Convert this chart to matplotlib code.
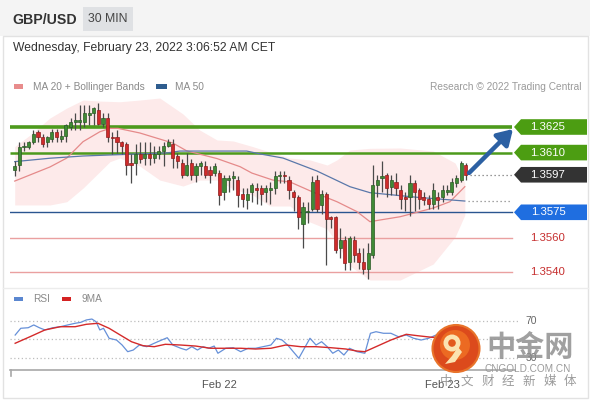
import matplotlib
matplotlib.use('Agg')
import matplotlib.pyplot as plt
from matplotlib.patches import Polygon, Rectangle, Circle
import numpy as np

plt.rcParams['font.family'] = ['Liberation Sans', 'Noto Sans CJK SC', 'DejaVu Sans']

# ---------------- data ----------------
title = "GBP/USD"
timeframe = "30 MIN"
date_text = "Wednesday, February 23, 2022 3:06:52 AM CET"
credit = "Research \u00a9 2022 Trading Central"

opens = [1.3600, 1.3603, 1.3613, 1.3613, 1.3616, 1.3622, 1.3619, 1.3616, 1.3618, 1.3622,
         1.3618, 1.3620, 1.3625, 1.3628, 1.3628, 1.3628, 1.3632, 1.3633, 1.3635, 1.3627,
         1.3630, 1.3619, 1.3619, 1.3616, 1.3615, 1.3604, 1.3604, 1.3609, 1.3607, 1.3609,
         1.3607, 1.3609, 1.3611, 1.3614, 1.3615, 1.3608, 1.3604, 1.3597, 1.3604, 1.3597,
         1.3602, 1.3602, 1.3600, 1.3598, 1.3598, 1.3587, 1.3594, 1.3595, 1.3594, 1.3586,
         1.3582, 1.3587, 1.3589, 1.3589, 1.3587, 1.3588, 1.3589, 1.3596, 1.3597, 1.3594,
         1.3587, 1.3584, 1.3568, 1.3575, 1.3577, 1.3594, 1.3579, 1.3586, 1.3572, 1.3572,
         1.3554, 1.3559, 1.3546, 1.3559, 1.3551, 1.3546, 1.3542, 1.3550, 1.3591, 1.3595,
         1.3597, 1.3590, 1.3593, 1.3588, 1.3584, 1.3584, 1.3592, 1.3588, 1.3584, 1.3583,
         1.3580, 1.3584, 1.3584, 1.3587, 1.3587, 1.3592, 1.3594, 1.3603]
highs = [1.3605, 1.3616, 1.3616, 1.3617, 1.3623, 1.3623, 1.3621, 1.3620, 1.3624, 1.3624,
         1.3623, 1.3627, 1.3630, 1.3633, 1.3638, 1.3638, 1.3638, 1.3637, 1.3639, 1.3633,
         1.3633, 1.3622, 1.3623, 1.3617, 1.3616, 1.3609, 1.3615, 1.3616, 1.3616, 1.3616,
         1.3614, 1.3614, 1.3616, 1.3618, 1.3618, 1.3610, 1.3606, 1.3610, 1.3606, 1.3604,
         1.3605, 1.3605, 1.3602, 1.3604, 1.3600, 1.3597, 1.3597, 1.3599, 1.3596, 1.3589,
         1.3589, 1.3592, 1.3592, 1.3591, 1.3591, 1.3593, 1.3599, 1.3599, 1.3599, 1.3596,
         1.3588, 1.3585, 1.3581, 1.3581, 1.3596, 1.3597, 1.3588, 1.3587, 1.3573, 1.3573,
         1.3566, 1.3561, 1.3561, 1.3561, 1.3554, 1.3554, 1.3557, 1.3603, 1.3597, 1.3605,
         1.3598, 1.3597, 1.3598, 1.3591, 1.3587, 1.3597, 1.3594, 1.3589, 1.3587, 1.3585,
         1.3592, 1.3587, 1.3591, 1.3591, 1.3595, 1.3597, 1.3605, 1.3604]
lows = [1.3596, 1.3599, 1.3611, 1.3612, 1.3615, 1.3616, 1.3613, 1.3613, 1.3616, 1.3616,
        1.3616, 1.3616, 1.3623, 1.3623, 1.3623, 1.3625, 1.3626, 1.3626, 1.3626, 1.3625,
        1.3616, 1.3609, 1.3610, 1.3609, 1.3597, 1.3592, 1.3597, 1.3604, 1.3603, 1.3603,
        1.3604, 1.3606, 1.3602, 1.3613, 1.3601, 1.3601, 1.3595, 1.3596, 1.3594, 1.3593,
        1.3597, 1.3595, 1.3592, 1.3596, 1.3579, 1.3582, 1.3587, 1.3588, 1.3578, 1.3578,
        1.3577, 1.3581, 1.3580, 1.3579, 1.3581, 1.3580, 1.3586, 1.3592, 1.3592, 1.3583,
        1.3576, 1.3565, 1.3554, 1.3569, 1.3576, 1.3575, 1.3574, 1.3544, 1.3566, 1.3551,
        1.3548, 1.3541, 1.3541, 1.3546, 1.3542, 1.3539, 1.3536, 1.3548, 1.3584, 1.3587,
        1.3584, 1.3585, 1.3585, 1.3577, 1.3576, 1.3573, 1.3576, 1.3577, 1.3579, 1.3577,
        1.3577, 1.3577, 1.3581, 1.3585, 1.3585, 1.3590, 1.3593, 1.3594]
closes = [1.3602, 1.3613, 1.3614, 1.3616, 1.3621, 1.3619, 1.3615, 1.3619, 1.3622, 1.3619,
          1.3620, 1.3626, 1.3628, 1.3629, 1.3629, 1.3633, 1.3633, 1.3636, 1.3627, 1.3630,
          1.3619, 1.36185, 1.3616, 1.3614, 1.3603, 1.3603, 1.3609, 1.3606, 1.3609, 1.3607,
          1.3609, 1.3611, 1.3614, 1.3616, 1.3607, 1.3605, 1.3597, 1.3603, 1.3597, 1.3602,
          1.3604, 1.3597, 1.3597, 1.3602, 1.3585, 1.3595, 1.3595, 1.3596, 1.3585, 1.3583,
          1.3586, 1.3591, 1.3588, 1.3586, 1.3589, 1.3589, 1.3596, 1.3597, 1.3596, 1.3588,
          1.3584, 1.3572, 1.3578, 1.3576, 1.3593, 1.3577, 1.3586, 1.3571, 1.3571, 1.3553,
          1.3559, 1.3545, 1.3560, 1.3550, 1.3546, 1.3542, 1.3551, 1.3591, 1.3594, 1.3596,
          1.3589, 1.3594, 1.3589, 1.3583, 1.3583, 1.3592, 1.3587, 1.3583, 1.3582, 1.3580,
          1.3588, 1.3582, 1.3588, 1.3588, 1.3593, 1.3595, 1.3604, 1.3597]

# MA 20 (read at sample bars)
ma20_idx = [0, 7.6, 11.2, 14.7, 18.3, 20.5, 22.2, 26.9, 34.0, 37.0, 43.5, 48.5, 51.0,
            55.5, 59.2, 64.1, 69.3, 73.6, 76.4, 78.6, 82.9, 90.0, 93.6, 96.8]
ma20_val = [1.35933, 1.36016, 1.36068, 1.36164, 1.36222, 1.36242, 1.36242, 1.36215,
            1.36156, 1.36110, 1.36065, 1.36017, 1.35980, 1.35939, 1.35928, 1.35869,
            1.35812, 1.35754, 1.35695, 1.35705, 1.35724, 1.35775, 1.35812, 1.35900]
# MA 50
ma50_idx = [0, 7.6, 14.7, 20.5, 32.8, 35.5, 49.9, 52.8, 57.7, 65.0, 72.1, 76.4, 86.5, 96.8]
ma50_val = [1.36047, 1.36067, 1.36080, 1.36086, 1.36098, 1.36109, 1.36109, 1.36092,
            1.36068, 1.35992, 1.35900, 1.35865, 1.35838, 1.35816]
# Bollinger bands
bb_idx = [0, 3.3, 7.6, 11.2, 14.7, 18.3, 20.5, 22.6, 26.9, 31.2, 36.2, 39.8, 43.5, 47.0,
          51.2, 54.9, 59.2, 63.5, 67.2, 69.3, 72.1, 76.4, 82.9, 90.0, 94.7, 96.8]
bb_upper = [1.36135, 1.36203, 1.36303, 1.36361, 1.36408, 1.36402, 1.36400, 1.36398,
            1.36408, 1.36420, 1.36326, 1.36232, 1.36174, 1.36168, 1.36135, 1.36103,
            1.36068, 1.36057, 1.36027, 1.36057, 1.36115, 1.36125, 1.36127, 1.36109,
            1.36039, 1.35922]
bb_lower = [1.35793, 1.35793, 1.35793, 1.35812, 1.35892, 1.35988, 1.36047, 1.36068,
            1.36021, 1.35939, 1.35904, 1.35939, 1.35939, 1.35887, 1.35851, 1.35787,
            1.35787, 1.35693, 1.35652, 1.35570, 1.35435, 1.35353, 1.35353, 1.35447,
            1.35605, 1.35734]

last_price = 1.3597
resistances = [1.3625, 1.3610]
pivot = 1.3575
supports = [1.3560, 1.3540]

# RSI panel
rsi_idx = [0.1, 1.3, 2.9, 4.1, 5.3, 6.5, 8.2, 9.8, 11.4, 13.0, 14.2, 15.4, 16.6, 17.5,
           18.3, 19.1, 20.3, 21.9, 23.1, 24.3, 25.5, 26.8, 28.4, 30.0, 31.6, 32.8, 34.0,
           35.7, 36.9, 38.1, 39.3, 40.5, 41.7, 42.9, 43.7, 45.4, 47.0, 48.6, 50.2, 51.8,
           53.4, 55.1, 56.3, 57.5, 58.7, 59.9, 61.1, 62.3, 63.5, 64.8, 66.0, 67.2, 68.4,
           69.6, 70.8, 72.0, 73.6, 75.3, 76.5, 77.7, 79.3, 80.9, 82.5, 84.2, 85.8, 87.4,
           89.0, 90.6, 92.2, 94.7, 97.0]
rsi_val = [54.5, 61.8, 62.4, 65.4, 62.4, 60.0, 62.4, 63.5, 65.4, 67.2, 68.2, 70.8, 71.8,
           68.9, 60.0, 61.8, 51.0, 49.1, 43.7, 36.5, 38.3, 43.7, 41.9, 45.6, 49.1, 51.6,
           43.7, 40.2, 38.3, 41.9, 38.3, 41.9, 40.2, 42.6, 34.8, 40.2, 40.8, 36.5, 40.2,
           40.2, 41.9, 43.7, 51.0, 49.1, 43.7, 36.5, 29.4, 40.2, 51.0, 43.7, 47.3, 41.9,
           34.8, 38.3, 32.9, 40.2, 36.5, 34.8, 56.4, 58.1, 56.4, 56.4, 52.7, 54.5, 51.0,
           49.1, 51.0, 54.5, 56.4, 58.1, 62.0]
ma9_idx = [0.1, 3.3, 6.5, 9.8, 13.0, 15.4, 17.9, 20.3, 22.7, 25.1, 27.6, 30.0, 32.4, 35.7,
           38.9, 42.1, 45.4, 48.6, 51.8, 55.1, 58.3, 61.5, 64.8, 68.0, 71.2, 73.6, 75.3,
           77.7, 80.9, 84.2, 86.6, 89.8, 92.2, 94.7, 97.0]
ma9_val = [45.6, 52.7, 60.0, 63.5, 63.5, 66.1, 67.2, 61.8, 54.5, 47.3, 43.0, 41.9, 44.5,
           43.7, 42.6, 40.2, 40.2, 40.2, 39.4, 40.2, 43.7, 41.9, 41.9, 40.8, 39.4, 37.2,
           36.5, 41.9, 49.1, 55.3, 53.8, 52.0, 52.7, 52.7, 54.0]
rsi_levels = [70, 50, 30]
tick_idx = [44, 92]
tick_labels = ["Feb 22", "Feb 23"]

# ---------------- layout helpers ----------------
W, H = 590, 400
BAR0, STEP = 14.7, 4.65          # pixel x of first bar, pixels per bar
P_REF, Y_REF, PPX = 1.3625, 127.0, 5.862e-5   # price/pixel mapping


def px2idx(x):
    return (x - BAR0) / STEP


def py2price(y):
    return P_REF + (Y_REF - y) * PPX


fig = plt.figure(figsize=(W / 100, H / 100), dpi=100)
fig.patch.set_facecolor('white')

# background / frame
bg = fig.add_axes([0, 0, 1, 1], zorder=0)
bg.set_xlim(0, W); bg.set_ylim(H, 0); bg.axis('off')
bg.add_patch(Rectangle((0, 0), W, 36, facecolor='#f4f4f4', edgecolor='none'))
bg.add_patch(Rectangle((2.5, 36), W - 5, H - 38.5, facecolor='white', edgecolor='#e2e2e2', lw=1))
bg.plot([2.5, W - 2.5], [288, 288], color='#ececec', lw=1)
bg.add_patch(Rectangle((83, 7), 50, 24, facecolor='#dfe1e4', edgecolor='none'))
bg.text(12, 19.5, title, fontsize=10.2, fontweight='bold', color='#333333', va='center')
bg.text(108, 19.5, timeframe, fontsize=8.8, color='#444444', va='center', ha='center')
bg.text(13, 48, date_text, fontsize=8.7, color='#333333', va='center')
bg.add_patch(Rectangle((14, 84), 9, 4.5, facecolor='#e88c8c', edgecolor='none'))
bg.text(33, 86.5, "MA 20 + Bollinger Bands", fontsize=7.3, color='#8a8a8a', va='center')
bg.add_patch(Rectangle((156, 84), 11, 4.5, facecolor='#2f5d8f', edgecolor='none'))
bg.text(175, 86.5, "MA 50", fontsize=7.3, color='#8a8a8a', va='center')
bg.text(581, 86.5, credit, fontsize=7.3, color='#9a9a9a', va='center', ha='right')
bg.add_patch(Rectangle((14, 296.5), 9, 4.5, facecolor='#5b87d0', edgecolor='none'))
bg.text(33, 298.5, "RSI", fontsize=7.3, color='#8a8a8a', va='center')
bg.add_patch(Rectangle((62, 296.5), 9, 4.5, facecolor='#d42222', edgecolor='none'))
bg.text(82, 298.5, "9MA", fontsize=7.3, color='#8a8a8a', va='center')

# ---------------- price axes ----------------
ax = fig.add_axes([10 / W, (H - 285) / H, (W - 10) / W, 190 / H], zorder=1)
ax.set_facecolor('none')
ax.set_xlim(px2idx(10), px2idx(W))
ax.set_ylim(py2price(285), py2price(95))
ax.axis('off')
x_line_end = px2idx(512)
x0 = px2idx(10)

ax.fill_between(bb_idx, bb_lower, bb_upper, color='#fdeaea', lw=0, zorder=1)

for lvl, lw in zip(resistances, [2.6, 1.8]):
    ax.plot([x0, x_line_end], [lvl, lvl], color='#4d9a1c', lw=lw, zorder=2, solid_capstyle='butt')
ax.plot([x0, x_line_end], [pivot, pivot], color='#2a5590', lw=1.0, zorder=2)
for lvl in supports:
    ax.plot([x0, x_line_end], [lvl, lvl], color='#eaa0a0', lw=1.0, zorder=2)

ax.plot(ma20_idx, ma20_val, color='#e58a8a', lw=0.9, zorder=3)
ax.plot(ma50_idx, ma50_val, color='#5a78aa', lw=0.9, zorder=3)

idx = np.arange(len(opens))
o = np.array(opens); c = np.array(closes); hi = np.array(highs); lo = np.array(lows)
up = c >= o
ax.vlines(idx, lo, hi, color='#4a4a4a', lw=0.9, zorder=4)
bottoms = np.minimum(o, c)
heights = np.maximum(np.abs(c - o), 1.2 * PPX)
ax.bar(idx[up], heights[up], bottom=bottoms[up], width=0.68, color='#3f8a35',
       edgecolor='#2b5a25', lw=0.5, zorder=5)
ax.bar(idx[~up], heights[~up], bottom=bottoms[~up], width=0.68, color='#cf2b2b',
       edgecolor='#8e1d1d', lw=0.5, zorder=5)

# dotted extensions
x_last = px2idx(470)
ax.plot([x_last, x_line_end], [last_price, last_price], color='#777777', lw=0.9,
        ls=(0, (1, 2.2)), zorder=3)
ax.plot([ma50_idx[-1] + 0.6, x_line_end], [ma50_val[-1], ma50_val[-1]], color='#888888',
        lw=0.9, ls=(0, (1, 2.2)), zorder=3)

# arrow
ax.annotate('', xy=(px2idx(513), py2price(129)), xytext=(px2idx(469), py2price(173)),
            arrowprops=dict(arrowstyle='-|>,head_length=0.9,head_width=0.55', color='#2c60a3',
                            lw=3.2, shrinkA=0, shrinkB=0), zorder=6)

# price labels
def tag(price, face, text_color='white'):
    hh = 7.8 * PPX
    xt, xb, xe = px2idx(514), px2idx(521), px2idx(587)
    poly = Polygon([[xt, price], [xb, price + hh], [xe, price + hh], [xe, price - hh],
                    [xb, price - hh]], closed=True, facecolor=face, edgecolor='none',
                   clip_on=False, zorder=6)
    ax.add_patch(poly)
    ax.text(px2idx(548), price, f"{price:.4f}", color=text_color, fontsize=8.2,
            ha='center', va='center', clip_on=False, zorder=7)

tag(resistances[0], '#4c9d12')
tag(resistances[1], '#4c9d12')
tag(last_price, '#333333')
tag(pivot, '#1f6ee0')
for lvl in supports:
    ax.text(px2idx(548), lvl, f"{lvl:.4f}", color='#c62f2f', fontsize=8.2,
            ha='center', va='center', clip_on=False, zorder=7)

# ---------------- RSI axes ----------------
def rsi_y(ypx):
    return 70 - (ypx - 320.7) / 0.925

ax2 = fig.add_axes([10 / W, (H - 370) / H, (W - 10) / W, 70 / H], zorder=1)
ax2.set_facecolor('none')
ax2.set_xlim(px2idx(10), px2idx(W))
ax2.set_ylim(rsi_y(370), rsi_y(300))
for s in ['top', 'right', 'left']:
    ax2.spines[s].set_visible(False)
ax2.spines['bottom'].set_color('#a8a8a8')
ax2.spines['bottom'].set_linewidth(1.2)
ax2.spines['bottom'].set_bounds(px2idx(10), px2idx(515))
ax2.set_yticks([])
ax2.set_xticks(tick_idx)
ax2.set_xticklabels(tick_labels, fontsize=8, color='#555555')
ax2.tick_params(axis='x', length=0, pad=7)
for lvl in rsi_levels:
    ax2.plot([px2idx(10), px2idx(520)], [lvl, lvl], color='#bdbdbd', lw=0.9,
             ls=(0, (1, 2)), zorder=1)
ax2.plot([px2idx(10.5), px2idx(10.5)], [rsi_y(370), rsi_y(376)], color='#a8a8a8', lw=1.2,
         clip_on=False)
ax2.text(px2idx(531), 70, "70", fontsize=7.5, color='#666666', ha='center', va='center',
         clip_on=False)
ax2.text(px2idx(531), 30, "30", fontsize=7.5, color='#666666', ha='center', va='center',
         clip_on=False)
ax2.plot(rsi_idx, rsi_val, color='#6690d8', lw=0.9, zorder=3)
ax2.plot(ma9_idx, ma9_val, color='#d42a2a', lw=1.0, zorder=3)

# ---------------- watermark ----------------
top = fig.add_axes([0, 0, 1, 1], zorder=10)
top.set_xlim(0, W); top.set_ylim(H, 0); top.axis('off')
top.set_facecolor('none')
top.add_patch(Circle((456, 348.5), 23.5, facecolor='#dc4a1c', edgecolor='#e8732a', lw=1.5))
top.add_patch(Circle((455, 345), 15, facecolor='#ec6a22', edgecolor='none'))
top.add_patch(Circle((452, 343), 8.5, facecolor='#fbe3b0', edgecolor='none'))
top.add_patch(Circle((452, 343), 3.8, facecolor='#e25a1e', edgecolor='none'))
top.add_patch(Polygon([[458, 347], [462, 352], [455, 362], [445, 364], [452, 356]],
                      closed=True, facecolor='#fbe3b0', edgecolor='none'))
top.text(530, 347, "中金网", fontsize=21, fontweight='bold', color='#8f8f8f', alpha=0.85,
         ha='center', va='center', family=['Noto Sans CJK SC'])
top.text(528, 368.5, "CNGOLD.COM.CN", fontsize=7.2, color='#9a9a9a', ha='center',
         va='center')
for i, ch in enumerate("中文财经新媒体"):
    top.text(446 + i * 20.7, 381.5, ch, fontsize=9, color='#8a8a8a', alpha=0.85,
             ha='center', va='center', family=['Noto Sans CJK SC'])

fig.savefig('out.png', dpi=100, facecolor='white')
